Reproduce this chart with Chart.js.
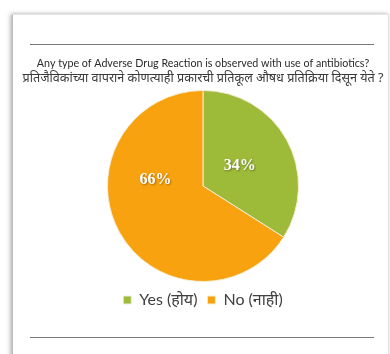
<!DOCTYPE html>
<html>
<head>
<meta charset="utf-8">
<script src="https://cdn.jsdelivr.net/npm/chart.js@4.4.1/dist/chart.umd.min.js"></script>
<style>
  html, body { margin: 0; padding: 0; background: #fff; }
  #wrap { position: relative; width: 390px; height: 354px; overflow: hidden; }
  #card {
    position: absolute; left: 12px; top: 14px; width: 375px; height: 345px;
    background: #fff; border-left: 1px solid #bbb; border-top: 1px solid #e6e6e6;
    border-right: 1px solid #e2e2e2;
    box-shadow: -2px 0 4px rgba(0,0,0,0.25), 0 -1px 3px rgba(0,0,0,0.08);
  }
  .rule { position: absolute; left: 30px; width: 344px; height: 1px; background: #7a7a7a; }
  canvas { position: absolute; left: 0; top: 0; }
</style>
</head>
<body>
<div id="wrap">
  <div id="card"></div>
  <div class="rule" style="top:44px"></div>
  <div class="rule" style="top:337px"></div>
  <canvas id="c" width="390" height="354"></canvas>
</div>
<script>
// Survey answers and their share of respondents (%)
const categories = ['Yes (होय)', 'No (नाही)'];
const shares = [34, 66];
const sliceColors = ['#9dba38', '#f8a20f'];
const titleEn = 'Any type of Adverse Drug Reaction is observed with use of antibiotics?';
const titleMr = 'प्रतिजैविकांच्या वापराने कोणत्याही प्रकारची प्रतिकूल औषध प्रतिक्रिया दिसून येते ?';

// Writes each slice's percentage inside the slice
const sliceLabels = {
  id: 'sliceLabels',
  afterDatasetsDraw(chart, args, opts) {
    const ctx = chart.ctx;
    const meta = chart.getDatasetMeta(0);
    ctx.save();
    ctx.font = 'bold 16px "Liberation Serif", serif';
    ctx.textAlign = 'center';
    ctx.textBaseline = 'middle';
    ctx.fillStyle = '#fff';
    ctx.shadowColor = 'rgba(0,0,0,0.35)';
    ctx.shadowBlur = 2;
    ctx.shadowOffsetX = 1;
    ctx.shadowOffsetY = 1;
    meta.data.forEach((arc, i) => {
      const p = arc.getProps(['x', 'y', 'startAngle', 'endAngle', 'outerRadius'], true);
      const place = opts.places[i];
      const a = p.startAngle + (p.endAngle - p.startAngle) * place.t;
      const r = p.outerRadius * place.r;
      const v = chart.data.datasets[0].data[i];
      ctx.fillText(v + '%', p.x + Math.cos(a) * r, p.y + Math.sin(a) * r);
    });
    ctx.restore();
  }
};

new Chart(document.getElementById('c'), {
  type: 'pie',
  data: {
    labels: categories,
    datasets: [{
      data: shares,
      backgroundColor: sliceColors,
      borderColor: '#f4ecd0',
      borderWidth: 1
    }]
  },
  options: {
    responsive: false,
    animation: false,
    events: [],
    layout: { padding: { left: 16, right: 0, top: 0, bottom: 36 } },
    plugins: {
      title: {
        display: true,
        text: titleEn,
        color: '#2a2a2a',
        font: { family: 'Lato, "Noto Sans", sans-serif', size: 10.7, weight: 'normal', lineHeight: 1.2 },
        padding: { top: 57, bottom: 1 }
      },
      subtitle: {
        display: true,
        text: titleMr,
        color: '#3a3a3a',
        font: { family: '"Noto Sans", Lato, sans-serif', size: 12.6, weight: 'normal', lineHeight: 1.2 },
        padding: { top: 0, bottom: 4 }
      },
      legend: {
        position: 'bottom',
        labels: {
          color: '#404040',
          font: { family: 'Lato, "Noto Sans", sans-serif', size: 16 },
          boxWidth: 8,
          boxHeight: 8,
          padding: 10
        }
      },
      tooltip: { enabled: false },
      sliceLabels: {
        places: [{ t: 0.5, r: 0.44 }, { t: 0.65, r: 0.5 }]
      }
    }
  },
  plugins: [sliceLabels]
});
</script>
</body>
</html>
